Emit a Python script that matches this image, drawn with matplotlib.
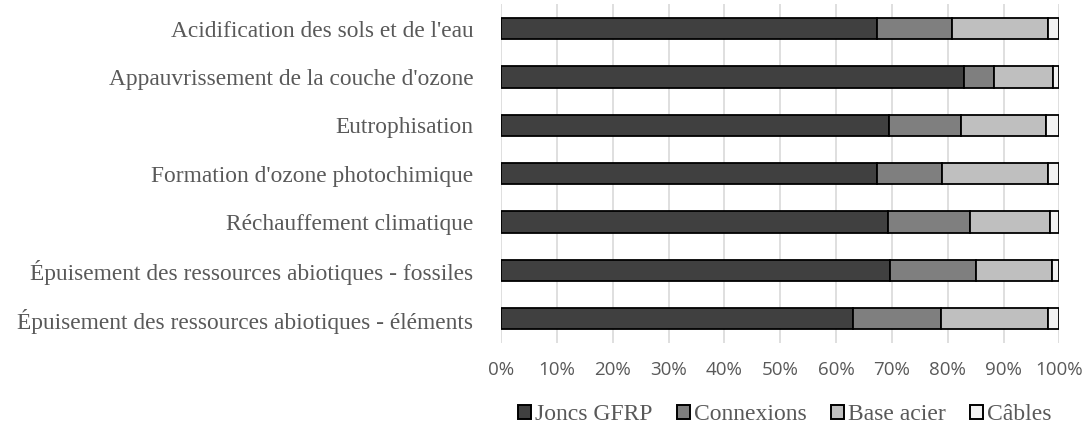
import matplotlib.pyplot as plt
from matplotlib.patches import Patch
import numpy as np

categories = [
    "Acidification des sols et de l'eau",
    "Appauvrissement de la couche d'ozone",
    "Eutrophisation",
    "Formation d'ozone photochimique",
    "Réchauffement climatique",
    "Épuisement des ressources abiotiques - fossiles",
    "Épuisement des ressources abiotiques - éléments",
]
joncs = [67.4, 82.9, 69.4, 67.4, 69.3, 69.7, 63.1]
connexions = [13.3, 5.4, 13.0, 11.6, 14.7, 15.3, 15.6]
base_acier = [17.2, 10.6, 15.1, 18.9, 14.3, 13.6, 19.3]
cables = [2.1, 1.1, 2.5, 2.1, 1.7, 1.4, 2.0]

series = [
    ("Joncs GFRP", joncs, "#404040"),
    ("Connexions", connexions, "#7f7f7f"),
    ("Base acier", base_acier, "#bfbfbf"),
    ("Câbles", cables, "#f2f2f2"),
]

fig = plt.figure(figsize=(10.87, 4.28), dpi=100)
ax = fig.add_axes([0.4609, 0.1986, 0.5138, 0.7909])

y = np.arange(len(categories))
left = np.zeros(len(categories))
for name, vals, col in series:
    vals = np.array(vals)
    ax.barh(y, vals, left=left, height=0.44, color=col,
            edgecolor="black", linewidth=1.3, label=name, zorder=3)
    left += vals

ax.set_xlim(0, 100)
ax.set_ylim(len(categories) - 0.5, -0.5)
ax.set_xticks(np.arange(0, 101, 10))
ax.set_xticklabels([f"{v}%" for v in range(0, 101, 10)],
                   fontfamily="Open Sans", fontsize=13.5, color="#595959")
ax.set_yticks(y)
ax.set_yticklabels(categories, fontfamily="Liberation Serif",
                   fontsize=16.8, color="#595959")
ax.tick_params(axis="both", length=0)
ax.tick_params(axis="x", pad=13)
ax.tick_params(axis="y", pad=20)
ax.grid(axis="x", color="#d9d9d9", linewidth=1.2, zorder=0)
for s in ax.spines.values():
    s.set_visible(False)

handles = [Patch(facecolor=col, edgecolor="black", linewidth=1.4, label=name)
           for name, _, col in series]
fig.legend(handles=handles, loc="center", bbox_to_anchor=(0.722, 0.031),
           ncol=4, frameon=False, handlelength=0.55, handleheight=0.55,
           handletextpad=0.2, columnspacing=1.0,
           prop={"family": "Liberation Serif", "size": 17},
           labelcolor="#595959")

fig.savefig("out.png", dpi=100)
